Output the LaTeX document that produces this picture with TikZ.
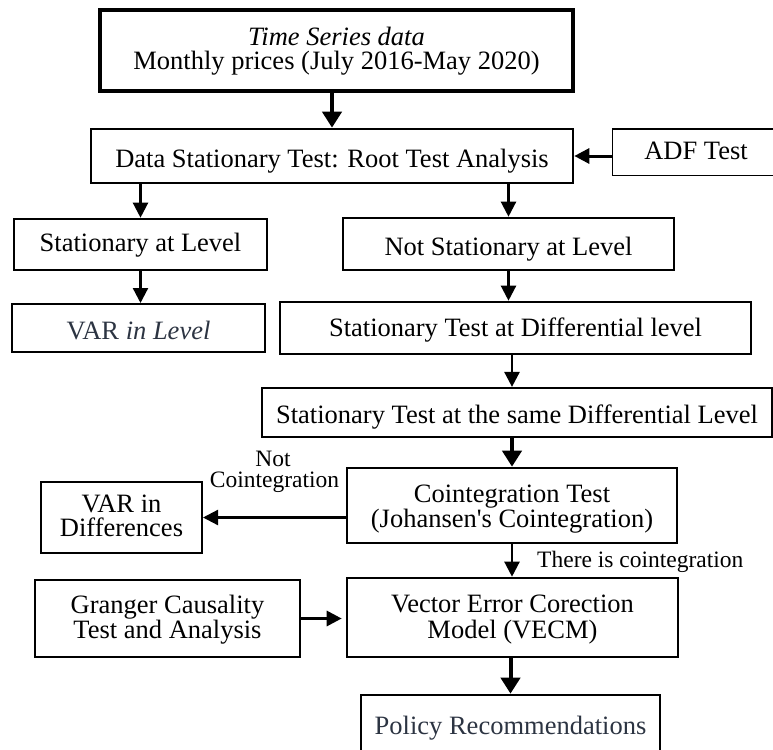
\documentclass[tikz,border=0pt]{standalone}
\usepackage{fontspec}
\setmainfont{Liberation Serif}
\usetikzlibrary{arrows.meta}
\definecolor{slate}{RGB}{44,52,66}
\begin{document}
\begin{tikzpicture}[x=1pt,y=-1pt,
  box/.style={draw, line width=2.6pt, rectangle, inner sep=0pt, align=center,
    font=\fontsize{26.5}{26}\selectfont},
  thinbox/.style={box, line width=1pt},
  tb/.style 2 args={text height=#1pt, text depth=#2pt},
  arr/.style={line width=2.3pt, -{Triangle[length=15pt,width=15pt]}},
  thickarr/.style={line width=4pt, -{Triangle[length=16pt,width=19pt]}},
  lbl/.style={inner sep=0pt, anchor=base, font=\fontsize{23.5}{21.5}\selectfont}]
\useasboundingbox (0,0) rectangle (773,749);

\node[box, line width=3.2pt, minimum width=473pt, minimum height=81pt, tb={37.6}{0},
  font=\fontsize{26.5}{23.6}\selectfont] (ts) at (336.5,50.5)
  {\itshape Time Series data\\Monthly prices (July 2016-May 2020)};
\node[box, minimum width=482pt, minimum height=54pt, tb={22}{0}] (dst) at (332,156)
  {Data Stationary Test: Root Test Analysis};
\node[thinbox, minimum width=168pt, minimum height=46pt, tb={14}{0}] (adf) at (696,152)
  {ADF Test};
\node[box, minimum width=253pt, minimum height=51pt, tb={14}{0}] (lvl) at (140.5,244.5)
  {Stationary at Level};
\node[box, minimum width=331pt, minimum height=52pt, tb={22}{0}] (nst) at (508.5,244)
  {Not Stationary at Level};
\node[box, line width=2pt, minimum width=253pt, minimum height=48pt, tb={22}{0}] (varl) at (138.5,328)
  {\color{slate}VAR \textit{in Level}};
\node[box, minimum width=471pt, minimum height=52pt, tb={16}{0}] (dif) at (515.5,328)
  {Stationary Test at Differential level};
\node[box, line width=2.2pt, minimum width=510pt, minimum height=49pt, tb={21}{0}] (same) at (517,412.5)
  {Stationary Test at the same Differential Level};
\node[box, minimum width=330pt, minimum height=75pt, tb={44.4}{0},
  font=\fontsize{26.5}{25}\selectfont] (coi) at (512,505.5)
  {Cointegration Test\\(Johansen\textquotesingle s Cointegration)};
\node[box, line width=2pt, minimum width=161pt, minimum height=71pt, tb={38.4}{0},
  font=\fontsize{26.5}{24}\selectfont] (vard) at (121.5,517.5)
  {VAR in\\Differences};
\node[box, minimum width=331pt, minimum height=79pt, tb={41}{0}] (vecm) at (512.5,617.5)
  {Vector Error Corection\\Model (VECM)};
\node[box, minimum width=265pt, minimum height=77pt, tb={39}{0},
  font=\fontsize{26.5}{25}\selectfont] (gra) at (167.5,618.5)
  {Granger Causality\\Test and Analysis};
\node[box, minimum width=299pt, minimum height=67pt, tb={11}{0}] (pol) at (510.5,728.5)
  {\color{slate}Policy Recommendations};

\node[lbl] (nc1) at (273,466) {Not};
\node[lbl] (nc2) at (274.5,487.5) {Cointegration};
\node[lbl, anchor=base west] (tic) at (537,567) {There is cointegration};

\draw[thickarr] (dst.north |- ts.south) -- (dst.north);
\draw[arr, line width=3pt] (adf.west |- dst.east) -- (dst.east);
\draw[arr] (lvl.north |- dst.south) -- (lvl.north);
\draw[arr] (nst.north |- dst.south) -- (nst.north);
\draw[arr] (lvl.south) -- (lvl.south |- varl.north);
\draw[arr] (nst.south) -- (nst.south |- dif.north);
\draw[arr, line width=2.6pt] (coi.north |- dif.south) -- (coi.north |- same.north);
\draw[thickarr] (coi.north |- same.south) -- (coi.north);
\draw[arr] (coi.west |- vard.east) -- (vard.east);
\draw[arr] (coi.south) -- (coi.south |- vecm.north);
\draw[arr, line width=3pt, shorten >=4pt] (gra.east) -- (gra.east -| vecm.west);
\draw[thickarr] (pol.north |- vecm.south) -- (pol.north);
\end{tikzpicture}
\end{document}
